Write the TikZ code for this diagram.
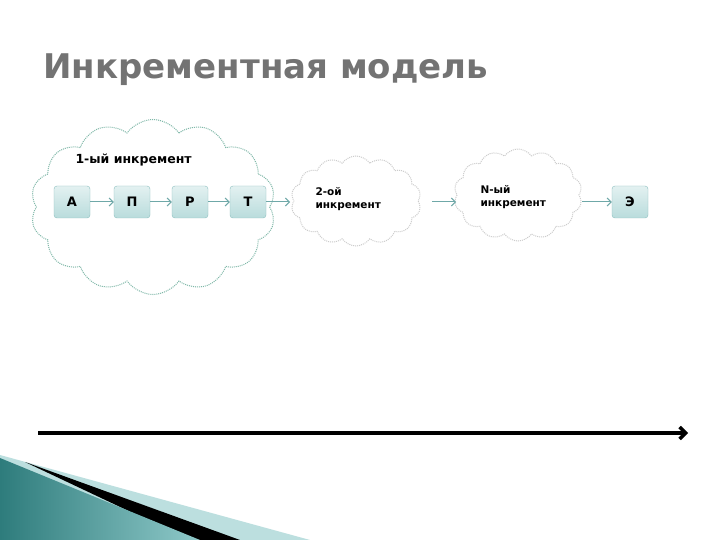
\documentclass[tikz,border=0pt]{standalone}
\usepackage{fontspec}
\setmainfont{DejaVu Sans}
\usetikzlibrary{shapes.symbols,arrows.meta}
\definecolor{boxfill}{HTML}{B9DCDC}
\definecolor{boxedge}{HTML}{8CBFBF}
\definecolor{arr}{HTML}{6FA8A8}
\definecolor{cloudc}{HTML}{7FB8A8}
\definecolor{teal1}{HTML}{2E7C7C}
\definecolor{teal2}{HTML}{8FC9C9}
\begin{document}
\begin{tikzpicture}[x=1pt,y=-1pt,
  stepbox/.style={draw=boxedge,rounded corners=3pt,top color=white!60!boxfill,bottom color=boxfill,minimum width=36pt,minimum height=32pt,font=\bfseries\fontsize{13}{15}\selectfont},
  cloudbox/.style={cloud,cloud puffs=14,cloud puff arc=110,draw,densely dotted,line width=1pt,aspect=1.3},
  conn/.style={draw=arr,line width=1pt,-{Straight Barb[length=4pt,width=8pt]}},
  lbl/.style={font=\bfseries\fontsize{10.5}{12.5}\selectfont,align=left,anchor=west}]
\useasboundingbox (0,0) rectangle (720,540);
\fill[white] (0,0) rectangle (720,540);
\node[anchor=west,font=\bfseries\fontsize{34}{38}\selectfont,text=black!55] (title) at (40,70) {Инкрементная модель};
\node[cloudbox,draw=cloudc,minimum width=245pt,minimum height=175pt] (c1) at (153,207) {};
\node[cloudbox,draw=black!20,minimum width=130pt,minimum height=90pt] (c2) at (356,201) {};
\node[cloudbox,draw=black!20,minimum width=128pt,minimum height=92pt] (c3) at (518,195) {};
\node[anchor=west,font=\bfseries\fontsize{12.5}{15}\selectfont] (t1) at (72,160) {1-ый инкремент};
\node[stepbox] (a) at (72,202) {А};
\node[stepbox] (p) at (132,202) {П};
\node[stepbox] (r) at (190,202) {Р};
\node[stepbox] (t) at (248,202) {Т};
\node[stepbox] (e) at (630,202) {Э};
\node[lbl] (l2) at (312,199) {2-ой\\инкремент};
\node[lbl] (l3) at (477,197) {N-ый\\инкремент};
\coordinate (c2w) at (290,202);
\coordinate (c2e) at (432,202);
\coordinate (c3w) at (456,202);
\coordinate (c3e) at (582,202);
\draw[conn] (a) -- (p);
\draw[conn] (p) -- (r);
\draw[conn] (r) -- (t);
\draw[conn] (t.east) -- (c2w);
\draw[conn] (c2e) -- (c3w);
\draw[conn] (c3e) -- (e);
\coordinate (s) at (38,433);
\coordinate (f) at (688,433);
\draw[line width=3.5pt,-{Straight Barb[length=6pt,width=12pt]}] (s) -- (f);
\fill[teal2!60] (0,455) -- (310,540) -- (0,540) -- cycle;
\fill[black] (25,462) -- (240,540) -- (190,540) -- cycle;
\shade[left color=teal1,right color=teal2] (0,458) -- (200,540) -- (0,540) -- cycle;
\end{tikzpicture}
\end{document}
